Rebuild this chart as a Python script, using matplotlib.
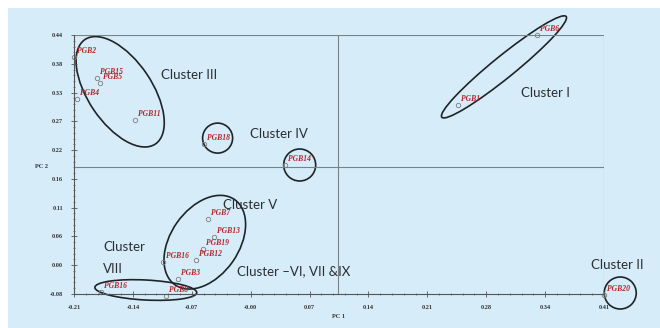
import numpy as np
import matplotlib
matplotlib.use("Agg")
import matplotlib.pyplot as plt
from matplotlib.patches import Ellipse, Rectangle
from matplotlib.transforms import ScaledTranslation

# ----------------------
# PCA scores
# ----------------------
genotypes = ["PGB2", "PGB15", "PGB5", "PGB4", "PGB11", "PGB18", "PGB14",
             "PGB6", "PGB1", "PGB7", "PGB13", "PGB19", "PGB12", "PGB16",
             "PGB3", "PGB16", "PGB8", "PGB20"]
pc1 = [-0.210, -0.183, -0.180, -0.207, -0.139, -0.058, 0.037,
       0.332, 0.239, -0.053, -0.046, -0.059, -0.067, -0.106,
       -0.088, -0.178, -0.102, 0.410]
pc2 = [0.396, 0.353, 0.344, 0.311, 0.269, 0.222, 0.178,
       0.440, 0.299, 0.071, 0.034, 0.010, -0.012, -0.016,
       -0.050, -0.076, -0.084, -0.082]

xTicks = np.linspace(-0.21, 0.41, 10)
xTickLabels = ["-0.21", "-0.14", "-0.07", "-0.00", "0.07", "0.14", "0.21", "0.28", "0.34", "0.41"]
yTicks = np.linspace(-0.08, 0.44, 10)
yTickLabels = ["-0.08", "0.00", "0.06", "0.11", "0.16", "0.22", "0.27", "0.33", "0.38", "0.44"]

# reference lines of the plot
centreX = 0.099
centreY = 0.175

# cluster outlines: centre (data), width/height in pixels, angle
clusterShapes = [
    (-0.156, 0.326, 126, 64, -56),
    (0.293, 0.376, 160, 22, 39),
    (-0.042, 0.233, 30, 30, 0),
    (0.054, 0.179, 32, 32, 0),
    (-0.057, 0.024, 104, 68, 55),
    (-0.126, -0.072, 102, 20, -3),
    (0.429, -0.078, 32, 32, 0),
]

clusterNames = ["Cluster III", "Cluster IV", "Cluster I", "Cluster V", "Cluster",
                "VIII", "Cluster \u2013VI, VII &IX", "Cluster II"]
clusterX = [-0.108, -0.004, 0.313, -0.036, -0.176, -0.176, -0.019, 0.395]
clusterY = [0.360, 0.241, 0.324, 0.099, 0.014, -0.030, -0.034, -0.022]

# ----------------------
# Figure
# ----------------------
fig = plt.figure(figsize=(6.6, 3.28), dpi=100)
fig.patch.set_facecolor("white")
fig.patches.append(Rectangle((8/660, 0), 1, 1 - 8/328, transform=fig.transFigure,
                             facecolor="#d6ecf9", edgecolor="none", zorder=-10))

ax = fig.add_axes([74/660, 1 - 294/328, 530/660, 259/328])
ax.set_facecolor("none")
ax.set_xlim(-0.21, 0.41)
ax.set_ylim(-0.08, 0.44)

for side in ["top", "right"]:
    ax.spines[side].set_visible(False)
for side in ["left", "bottom"]:
    ax.spines[side].set_color("#555555")
    ax.spines[side].set_linewidth(0.8)

lineCol = "#7a8288"
ax.axhline(0.44, color=lineCol, lw=0.8)
ax.axvline(0.41, color=lineCol, lw=0.8)
ax.axhline(centreY, color=lineCol, lw=0.8)
ax.axvline(centreX, color=lineCol, lw=0.8)

tickFont = dict(family="Liberation Serif", weight="bold", size=4.5)
ax.set_xticks(xTicks)
ax.set_xticklabels(xTickLabels, **tickFont, color="#333333")
ax.set_yticks(yTicks)
ax.set_yticklabels(yTickLabels, **tickFont, color="#333333")
ax.set_xticks(np.linspace(-0.21, 0.41, 46), minor=True)
ax.set_yticks(np.linspace(-0.08, 0.44, 46), minor=True)
ax.tick_params(which="major", direction="inout", length=4, width=0.6, color="#555555", pad=6)
ax.tick_params(which="minor", direction="inout", length=2, width=0.5, color="#555555")

ax.text(-0.24, centreY, "PC 2", ha="right", va="center", **tickFont, color="#333333", clip_on=False)
ax.text(centreX, -0.125, "PC 1", ha="center", va="center", **tickFont, color="#333333", clip_on=False)

# points and genotype labels
ax.plot(pc1, pc2, "o", ms=3.2, mfc="none", mec="#7d7d7d", mew=0.6, clip_on=False)
for name, x, y in zip(genotypes, pc1, pc2):
    ax.annotate(name, (x, y), xytext=(3, 6), textcoords="offset pixels",
                ha="left", va="center", color="#b3262b", fontsize=5.5,
                family="Liberation Serif", style="italic", weight="bold",
                annotation_clip=False)

# cluster outlines
for cx, cy, w, h, ang in clusterShapes:
    tr = fig.dpi_scale_trans + ScaledTranslation(cx, cy, ax.transData)
    ax.add_patch(Ellipse((0, 0), w/100, h/100, angle=ang, transform=tr,
                         fill=False, edgecolor="#1e2428", lw=1.2, clip_on=False))

for name, x, y in zip(clusterNames, clusterX, clusterY):
    ax.text(x, y, name, ha="left", va="center", fontsize=9.5, family="Lato",
            color="#2b2f33", clip_on=False)

fig.savefig("out.png", dpi=100)
